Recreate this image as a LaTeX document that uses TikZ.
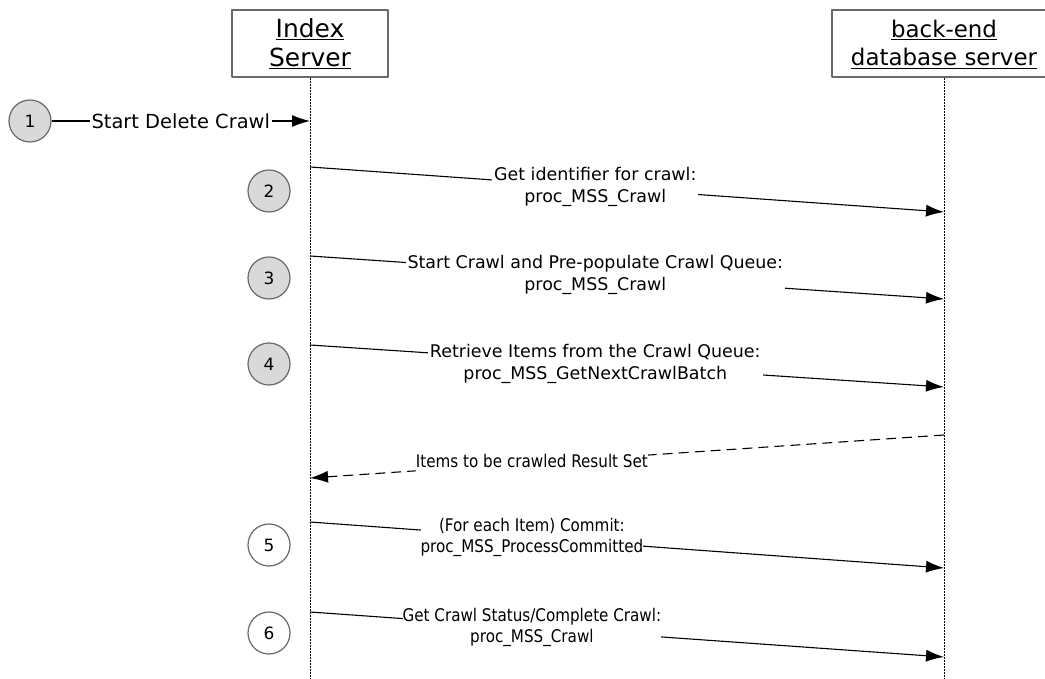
\documentclass[tikz,border=0pt]{standalone}
\usepackage{fontspec}
\usepackage{graphicx}
\setmainfont{DejaVu Sans}
\usetikzlibrary{arrows.meta}
\definecolor{stepgray}{RGB}{217,217,217}
\definecolor{edgegray}{RGB}{105,105,105}
\newcommand{\narrowtext}[1]{\scalebox{0.87}[1]{\begin{tabular}{@{}c@{}}#1\end{tabular}}}
\begin{document}
\begin{tikzpicture}[>={Latex[length=18bp,width=12bp]},line join=bevel,
  actor/.style={draw=edgegray,line width=2bp,fill=white,minimum height=67bp,
    align=center,inner sep=0bp},
  lifeline/.style={black,line width=1bp,dash pattern=on 1.5bp off 1.5bp},
  stepnum/.style={circle,draw=edgegray,line width=1.2bp,minimum size=42bp,
    inner sep=0bp,font=\fontsize{17}{20}\selectfont},
  msg/.style={black,line width=1.1bp,->},
  reply/.style={msg,dash pattern=on 10bp off 6bp},
  lbl/.style={fill=white,align=center,inner sep=2bp,font=\fontsize{17.5}{22}\selectfont},
  narrowlbl/.style={lbl,inner sep=0bp,font=\fontsize{17.5}{21}\selectfont}]
\useasboundingbox (0bp,0bp) rectangle (1045bp,679bp);
%%
\node (node_ix) at (310bp,635bp) [actor,minimum width=156bp,font=\fontsize{25}{29}\selectfont] {\underline{Index}\\\underline{Server}};
  \node (node_db) at (944bp,635bp) [actor,minimum width=224bp,font=\fontsize{23}{29}\selectfont] {\underline{back-end}\\\underline{database server}};
  \coordinate (ix_end) at (310bp,0bp);
  \coordinate (db_end) at (944bp,0bp);
  \draw [lifeline] (node_ix) -- (ix_end);
  \draw [lifeline] (node_db) -- (db_end);
%
\node (step_1) at (30bp,558bp) [stepnum,fill=stepgray] {1};
  \node (step_2) at (269bp,488bp) [stepnum,fill=stepgray] {2};
  \node (step_3) at (269bp,401bp) [stepnum,fill=stepgray] {3};
  \node (step_4) at (269bp,315bp) [stepnum,fill=stepgray] {4};
  \node (step_5) at (269bp,134bp) [stepnum,fill=white] {5};
  \node (step_6) at (269bp,46bp) [stepnum,fill=white] {6};
%
\coordinate (ix_1) at (310bp,558bp);
  \coordinate (ix_2) at (310bp,512bp);
  \coordinate (db_2) at (944bp,467bp);
  \coordinate (ix_3) at (310bp,423bp);
  \coordinate (db_3) at (944bp,380bp);
  \coordinate (ix_4) at (310bp,334bp);
  \coordinate (db_4) at (944bp,292bp);
  \coordinate (db_r) at (944bp,244bp);
  \coordinate (ix_r) at (310bp,201bp);
  \coordinate (ix_5) at (310bp,157bp);
  \coordinate (db_5) at (944bp,111bp);
  \coordinate (ix_6) at (310bp,67bp);
  \coordinate (db_6) at (944bp,22bp);
%
\draw [msg] (step_1) -- node (lbl_1) [lbl,pos=0.5,font=\fontsize{19.5}{22}\selectfont] {Start Delete Crawl} (ix_1);
  \draw [msg] (ix_2) -- node (lbl_2) [lbl,pos=0.45] {Get identifier for crawl:\\proc\_MSS\_Crawl} (db_2);
  \draw [msg] (ix_3) -- node (lbl_3) [lbl,pos=0.45] {Start Crawl and Pre-populate Crawl Queue:\\proc\_MSS\_Crawl} (db_3);
  \draw [msg] (ix_4) -- node (lbl_4) [lbl,pos=0.45] {Retrieve Items from the Crawl Queue:\\proc\_MSS\_GetNextCrawlBatch} (db_4);
  \draw [reply] (db_r) -- node (lbl_r) [narrowlbl,pos=0.65] {\narrowtext{Items to be crawled Result Set}} (ix_r);
  \draw [msg] (ix_5) -- node (lbl_5) [narrowlbl,pos=0.35] {\narrowtext{(For each Item) Commit:\\proc\_MSS\_ProcessCommitted}} (db_5);
  \draw [msg] (ix_6) -- node (lbl_6) [narrowlbl,pos=0.35] {\narrowtext{Get Crawl Status/Complete Crawl:\\proc\_MSS\_Crawl}} (db_6);
%
\end{tikzpicture}
\end{document}
